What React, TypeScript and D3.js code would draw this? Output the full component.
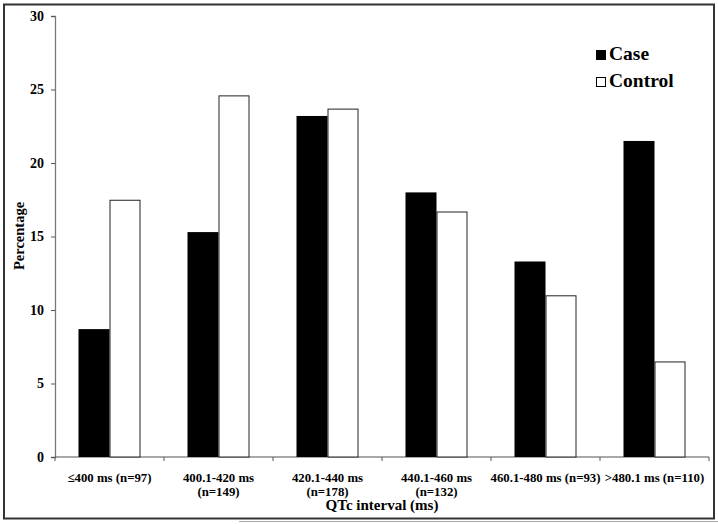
import React, { useEffect, useRef } from "react";
import * as d3 from "d3";

const categories = [
  ["≤400 ms (n=97)"],
  ["400.1-420 ms", "(n=149)"],
  ["420.1-440 ms", "(n=178)"],
  ["440.1-460 ms", "(n=132)"],
  ["460.1-480 ms (n=93)"],
  [">480.1 ms (n=110)"],
];
const caseValues = [8.7, 15.3, 23.2, 18.0, 13.3, 21.5];
const controlValues = [17.5, 24.6, 23.7, 16.7, 11.0, 6.5];
const yTicks = [0, 5, 10, 15, 20, 25, 30];
const seriesNames = ["Case", "Control"];

export default function App() {
  const ref = useRef<SVGSVGElement>(null);

  useEffect(() => {
    const svg = d3.select(ref.current);
    svg.selectAll("*").remove();
    const W = 718, H = 524;
    const margin = { top: 16, right: 10, bottom: 67, left: 55 };
    const font = "'Liberation Serif', 'Times New Roman', serif";

    svg.append("rect").attr("width", W).attr("height", H).attr("fill", "#fff");
    // frame
    svg.append("rect").attr("x", 4).attr("y", 4.5).attr("width", 710).attr("height", 514)
      .attr("fill", "none").attr("stroke", "#333").attr("stroke-width", 2);
    svg.append("line").attr("x1", 239).attr("x2", 718).attr("y1", 521.5).attr("y2", 521.5)
      .attr("stroke", "#aaa").attr("stroke-width", 1);

    const innerW = 709 - margin.left;
    const innerH = 457 - margin.top;
    const g = svg.append("g").attr("transform", `translate(${margin.left},${margin.top})`);

    const x = d3.scaleBand<number>().domain(d3.range(categories.length)).range([0, innerW]);
    const y = d3.scaleLinear().domain([0, 30]).range([innerH, 0]);
    const barW = 31;

    // y axis
    const ya = g.append("g").call(d3.axisLeft(y).tickValues(yTicks).tickSize(4).tickPadding(7));
    ya.select(".domain").attr("stroke", "#777").attr("stroke-width", 1.3);
    ya.selectAll(".tick line").attr("stroke", "#555");
    ya.selectAll("text").attr("font-family", font).attr("font-weight", "bold")
      .attr("font-size", 14).attr("fill", "#000");

    // x axis
    const xa = g.append("g").attr("transform", `translate(0,${innerH})`);
    xa.append("line").attr("x1", 0).attr("x2", innerW).attr("stroke", "#555").attr("stroke-width", 1.2);
    xa.selectAll(".tk").data(d3.range(categories.length + 1)).join("line")
      .attr("x1", (i) => i * x.bandwidth()).attr("x2", (i) => i * x.bandwidth())
      .attr("y1", 0).attr("y2", 4).attr("stroke", "#555");

    // bars
    const grp = g.selectAll(".grp").data(categories.map((_, i) => i)).join("g")
      .attr("transform", (i) => `translate(${x(i)! + x.bandwidth() / 2},0)`);
    grp.append("rect").attr("x", -barW).attr("width", barW)
      .attr("y", (i) => y(caseValues[i])).attr("height", (i) => innerH - y(caseValues[i]))
      .attr("fill", "#000");
    grp.append("rect").attr("x", 0.5).attr("width", barW - 1)
      .attr("y", (i) => y(controlValues[i]) + 0.5).attr("height", (i) => innerH - y(controlValues[i]) - 0.5)
      .attr("fill", "#fff").attr("stroke", "#222").attr("stroke-width", 1);

    // category labels
    grp.append("text").attr("text-anchor", "middle").attr("font-family", font)
      .attr("font-weight", "bold").attr("font-size", 12.8).attr("fill", "#000")
      .selectAll("tspan").data((i) => categories[i]).join("tspan")
      .attr("x", 0).attr("y", (_, j) => innerH + 25 + j * 14).text((d) => d);

    // axis titles
    svg.append("text").attr("x", 382).attr("y", 510).attr("text-anchor", "middle")
      .attr("font-family", font).attr("font-weight", "bold").attr("font-size", 15).text("QTc interval (ms)");
    svg.append("text").attr("transform", "translate(24,236) rotate(-90)").attr("text-anchor", "middle")
      .attr("font-family", font).attr("font-weight", "bold").attr("font-size", 14.5).text("Percentage");

    // legend
    const lg = svg.append("g").attr("transform", "translate(596,50)");
    seriesNames.forEach((name, i) => {
      lg.append("rect").attr("x", 0.5).attr("y", i * 27 + 0.5).attr("width", 9).attr("height", 9)
        .attr("fill", i === 0 ? "#000" : "#fff").attr("stroke", "#000").attr("stroke-width", 1);
      lg.append("text").attr("x", 13).attr("y", i * 27 + 10).attr("font-family", font)
        .attr("font-weight", "bold").attr("font-size", 19.5).text(name);
    });
  }, []);

  return (
    <div style={{ position: "fixed", left: 0, top: 0 }}>
      <svg ref={ref} width={718} height={524} style={{ display: "block" }} />
    </div>
  );
}
